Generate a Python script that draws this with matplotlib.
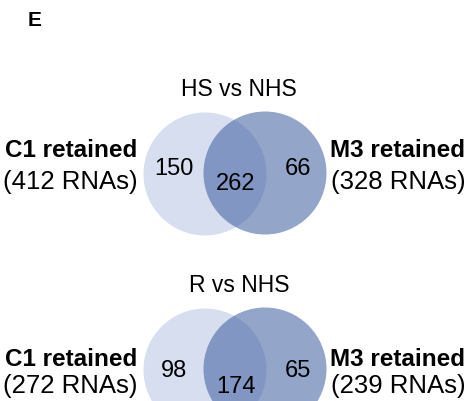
import matplotlib
matplotlib.use("Agg")
import matplotlib.pyplot as plt
from matplotlib.patches import Circle

plt.rcParams['font.family'] = ['Liberation Sans', 'DejaVu Sans']

# data
panel_label = "E"
titles = ["HS vs NHS", "R vs NHS"]
set_names = ["C1 retained", "M3 retained"]
left_only = [150, 98]
shared = [262, 174]
right_only = [66, 65]
left_total = [412, 272]
right_total = [328, 239]

left_color = "#d7deef"
right_color = "#3b5b9d"

fig = plt.figure(figsize=(4.67, 4.01), dpi=100)
ax = fig.add_axes([0, 0, 1, 1])
ax.set_xlim(0, 467)
ax.set_ylim(401, 0)
ax.axis("off")

ax.text(28, 26, panel_label, fontsize=15, fontweight="bold", ha="left", va="baseline")

# layout per row (pixel coords, y down)
row_y = [174, 370]
title_base = [96, 292]
name_base = [157, 366]
total_base = [189, 393]
side_base = [175, 377]
shared_base = [190, 393]
cx_left, cx_right, r = 205, 265, 61.5

for i in range(2):
    cy = row_y[i]
    ax.add_patch(Circle((cx_left, cy), r, facecolor=left_color, edgecolor="none"))
    ax.add_patch(Circle((cx_right, cy - 1), r, facecolor=right_color, alpha=0.55,
                        edgecolor="none"))
    ax.text(239, title_base[i], titles[i], fontsize=16.5, ha="center", va="baseline")
    ax.text(174, side_base[i], str(left_only[i]), fontsize=17, ha="center", va="baseline")
    ax.text(236, shared_base[i], str(shared[i]), fontsize=17, ha="center", va="baseline")
    ax.text(298, side_base[i], str(right_only[i]), fontsize=17, ha="center", va="baseline")
    ax.text(71, name_base[i], set_names[0], fontsize=17.5, fontweight="bold",
            ha="center", va="baseline")
    ax.text(70, total_base[i], f"({left_total[i]} RNAs)", fontsize=18.5,
            ha="center", va="baseline")
    ax.text(398, name_base[i], set_names[1], fontsize=17.5, fontweight="bold",
            ha="center", va="baseline")
    ax.text(398, total_base[i], f"({right_total[i]} RNAs)", fontsize=18.5,
            ha="center", va="baseline")

fig.savefig("out.png", dpi=100)
